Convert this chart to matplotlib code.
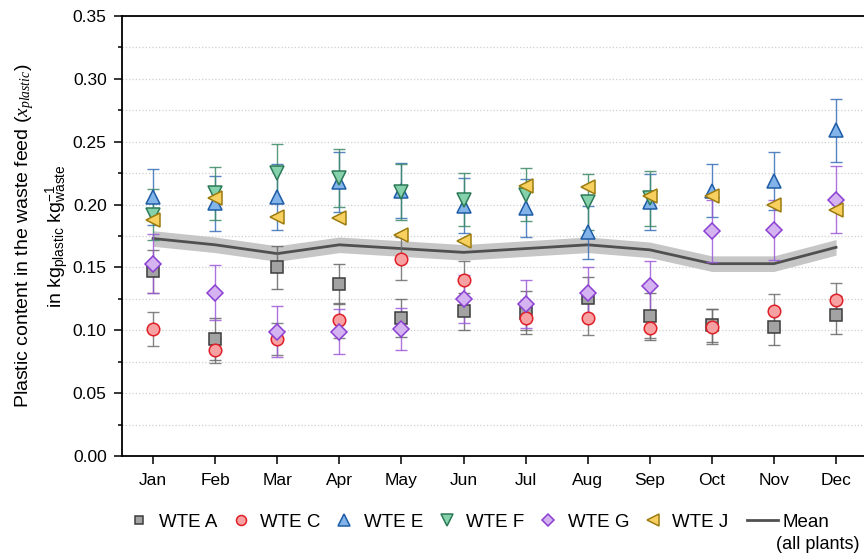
import matplotlib
matplotlib.use("Agg")
import matplotlib.pyplot as plt
from matplotlib.ticker import MultipleLocator, FormatStrFormatter
from matplotlib.legend_handler import HandlerLine2D

plt.rcParams['font.family'] = ['Liberation Sans', 'DejaVu Sans']
plt.rcParams['mathtext.fontset'] = 'custom'
plt.rcParams['mathtext.rm'] = 'Liberation Sans'
plt.rcParams['mathtext.it'] = 'Liberation Serif:italic'
plt.rcParams['mathtext.bf'] = 'Liberation Sans:bold'

months = ['Jan', 'Feb', 'Mar', 'Apr', 'May', 'Jun',
          'Jul', 'Aug', 'Sep', 'Oct', 'Nov', 'Dec']

# monthly plastic content per plant (value, +/- error)
wte_a = [0.147, 0.093, 0.150, 0.137, 0.110, 0.115, 0.114, 0.126, 0.111, 0.104, 0.103, 0.112]
wte_a_err = [0.017, 0.017, 0.017, 0.016, 0.015, 0.015, 0.017, 0.016, 0.019, 0.013, 0.015, 0.015]
wte_c = [0.101, 0.084, 0.093, 0.108, 0.157, 0.140, 0.110, 0.110, 0.102, 0.103, 0.115, 0.124]
wte_c_err = [0.0135, 0.010, 0.013, 0.014, 0.017, 0.015, 0.010, 0.014, 0.008, 0.014, 0.014, 0.014]
wte_e = [0.206, 0.201, 0.206, 0.218, 0.211, 0.199, 0.197, 0.178, 0.202, 0.211, 0.219, 0.259]
wte_e_err = [0.022, 0.022, 0.026, 0.024, 0.022, 0.022, 0.023, 0.021, 0.022, 0.021, 0.023, 0.025]
wte_f = [0.192, 0.209, 0.225, 0.221, 0.210, 0.204, 0.208, 0.202, 0.205, None, None, None]
wte_f_err = [0.020, 0.021, 0.023, 0.023, 0.022, 0.021, 0.021, 0.022, 0.022, None, None, None]
wte_g = [0.153, 0.130, 0.099, 0.099, 0.101, 0.125, 0.121, 0.130, 0.135, 0.179, 0.180, 0.204]
wte_g_err = [0.0235, 0.022, 0.020, 0.018, 0.017, 0.019, 0.019, 0.020, 0.020, 0.025, 0.024, 0.027]
wte_j = [0.188, 0.205, 0.190, 0.189, 0.176, 0.171, 0.215, 0.214, 0.207, 0.207, 0.200, 0.196]

mean_all = [0.173, 0.168, 0.161, 0.168, 0.165, 0.162, 0.165, 0.168, 0.164, 0.153, 0.153, 0.166]
mean_band = 0.0062

x = list(range(len(months)))


class LongLine(HandlerLine2D):
    # legend line that reaches a bit further left than the handle box
    def create_artists(self, legend, orig_handle, xdescent, ydescent,
                       width, height, fontsize, trans):
        arts = super().create_artists(legend, orig_handle, xdescent, ydescent,
                                      width, height, fontsize, trans)
        ext = 0.45 * fontsize
        for a in arts:
            xd = list(a.get_xdata())
            if len(xd) == 2:
                a.set_xdata([xd[0] - ext, xd[1]])
        return arts


fig = plt.figure(figsize=(8.64, 5.58), dpi=100)
ax = fig.add_axes([0.1412, 0.1828, 0.8588, 0.7885])

# mean of all plants with shaded band
lo = [m - mean_band for m in mean_all]
hi = [m + mean_band for m in mean_all]
ax.fill_between(x, lo, hi, color='#c6c6c6', lw=0, zorder=1)
mean_line, = ax.plot(x, mean_all, color='#505050', lw=2, zorder=2, label='Mean')

series = [
    ('WTE A', wte_a, wte_a_err, 's', '#a3a3a3', '#3c3c3c', '#666666', 8),
    ('WTE C', wte_c, wte_c_err, 'o', '#f7a1a3', '#e01f26', '#6e6e6e', 9),
    ('WTE E', wte_e, wte_e_err, '^', '#82b4ea', '#1e5ca6', '#3a6fb8', 10),
    ('WTE F', wte_f, wte_f_err, 'v', '#84d1ac', '#2d7a58', '#3d8a66', 10),
    ('WTE G', wte_g, wte_g_err, 'D', '#d5b3f0', '#8b3fd3', '#9b5ad8', 8),
    ('WTE J', wte_j, None, '<', '#f7d05f', '#9c7c10', '#9c7c10', 10),
]

for name, vals, errs, mk, face, edge, ecol, ms in series:
    xs = [i for i, v in zip(x, vals) if v is not None]
    ys = [v for v in vals if v is not None]
    if errs is not None:
        es = [e for e in errs if e is not None]
        ax.errorbar(xs, ys, yerr=es, fmt='none', ecolor=ecol, elinewidth=1.0,
                    capsize=4, capthick=1.0, alpha=0.85, zorder=3)
    ax.plot(xs, ys, linestyle='none', marker=mk, markersize=ms,
            markerfacecolor=face, markeredgecolor=edge, markeredgewidth=1.1,
            zorder=4, label=name)

ax.set_xlim(-0.5, 11.45)
ax.set_ylim(0, 0.35)
ax.set_xticks(x)
ax.set_xticklabels(months)
ax.yaxis.set_major_locator(MultipleLocator(0.05))
ax.yaxis.set_minor_locator(MultipleLocator(0.025))
ax.yaxis.set_major_formatter(FormatStrFormatter('%.2f'))
ax.grid(axis='y', which='both', linestyle=':', color='#cfcfcf', lw=0.9, zorder=0)
ax.set_axisbelow(True)

ax.tick_params(axis='both', which='major', direction='out', length=6, width=1.1,
               labelsize=12.5, colors='black')
ax.tick_params(axis='y', which='minor', direction='out', length=3, width=1.1)
ax.tick_params(axis='x', pad=6)
ax.tick_params(axis='y', pad=5)
for side in ['left', 'bottom', 'top']:
    ax.spines[side].set_linewidth(1.3)
ax.spines['right'].set_visible(False)

ax.set_ylabel('Plastic content in the waste feed ($x_{plastic}$)\n'
              'in kg$_{\\mathrm{plastic}}$ kg$^{-1}_{\\mathrm{waste}}$',
              fontsize=14, labelpad=1, linespacing=1.42)

handles, labels = ax.get_legend_handles_labels()
order = labels[1:] + labels[:1]
hmap = dict(zip(labels, handles))
leg_labels = [l + '  ' if l == 'WTE J' else l for l in order]
leg = fig.legend([hmap[l] for l in order], leg_labels, loc='center', ncol=7,
                 bbox_to_anchor=(0.551, 0.064), frameon=False, fontsize=13.5,
                 handlelength=1.7, handletextpad=0.2, columnspacing=0.4,
                 markerscale=0.8, handler_map={mean_line: LongLine()})

fig.canvas.draw()
mean_txt = leg.get_texts()[-1]
bb = mean_txt.get_window_extent()
fx, fy = fig.transFigure.inverted().transform((bb.x0 - 6, bb.y0))
fig.text(fx, fy - 0.01, '(all plants)', fontsize=13, va='top', ha='left')

fig.savefig('out.png', dpi=100)
